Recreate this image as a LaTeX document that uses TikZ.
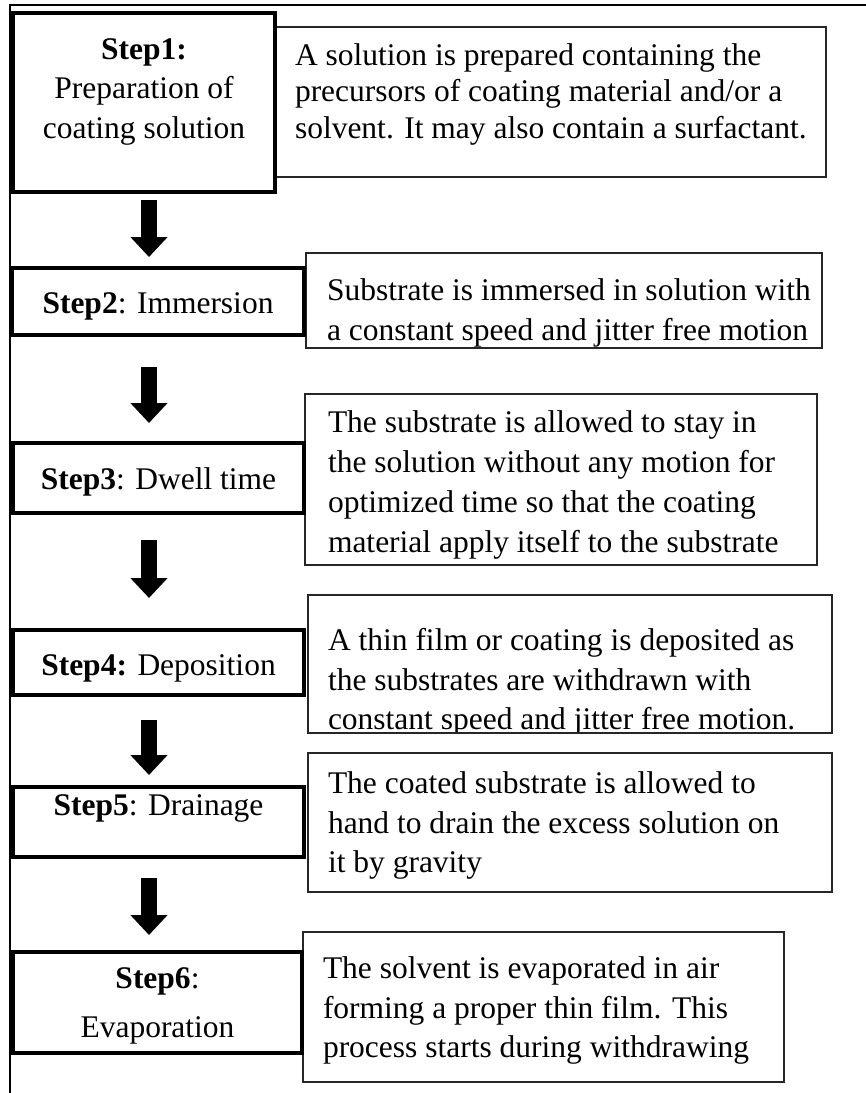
\documentclass[tikz,border=0pt]{standalone}
\usepackage{fontspec}
\setmainfont{Liberation Serif}
\usetikzlibrary{arrows.meta}

\begin{document}
\begin{tikzpicture}[x=1pt,y=-1pt,
  every node/.style={inner sep=0pt, outer sep=0pt},
  stepbox/.style={draw=black, line width=4pt, fill=white, anchor=north west},
  descbox/.style={draw=black!85, line width=1.3pt, fill=white, anchor=north west},
  txt/.style={font=\fontsize{31.5}{40}\selectfont, anchor=base},
  ltxt/.style={txt, anchor=base west},
  flowarrow/.style={line width=16pt, -{Triangle[width=36pt,length=20pt]}}
]
\useasboundingbox (0,0) rectangle (866,1093);

% frame (top and left rules)
\draw[line width=2pt] (866,5) -- (10,5) -- (10,1093);

% description boxes
\node[descbox, minimum width=551pt, minimum height=150pt] (d1) at (275,27) {};
\node[descbox, minimum width=516pt, minimum height=95pt]  (d2) at (306,253) {};
\node[descbox, minimum width=512pt, minimum height=171pt] (d3) at (305,394) {};
\node[descbox, minimum width=524pt, minimum height=138pt] (d4) at (308,595) {};
\node[descbox, minimum width=524pt, minimum height=139pt] (d5) at (308,753) {};
\node[descbox, minimum width=481pt, minimum height=150pt] (d6) at (303,932) {};

% step boxes
\node[stepbox, minimum width=262pt, minimum height=179pt] (s1) at (13,13) {};
\node[stepbox, minimum width=292pt, minimum height=67pt]  (s2) at (12,268) {};
\node[stepbox, minimum width=291pt, minimum height=70pt]  (s3) at (13,443) {};
\node[stepbox, minimum width=291pt, minimum height=65pt]  (s4) at (13,630) {};
\node[stepbox, minimum width=291pt, minimum height=70pt]  (s5) at (13,787) {};
\node[stepbox, minimum width=289pt, minimum height=101pt] (s6) at (13,952) {};

% step labels
\node[txt] (s1a) at (144,59)  {\textbf{Step1:}};
\node[txt] (s1b) at (144,98)  {Preparation of};
\node[txt] (s1c) at (144,138) {coating solution};
\node[txt] (s2a) at (158,313) {\textbf{Step2}: Immersion};
\node[txt] (s3a) at (158.5,489) {\textbf{Step3}: Dwell time};
\node[txt] (s4a) at (158.5,675) {\textbf{Step4:} Deposition};
\node[txt] (s5a) at (158.5,815) {\textbf{Step5}: Drainage};
\node[txt] (s6a) at (157.5,988)  {\textbf{Step6}:};
\node[txt] (s6b) at (157.5,1037) {Evaporation};

% description texts
\node[ltxt] (d1a) at (295,65)    {A solution is prepared containing the};
\node[ltxt] (d1b) at (295,101.5) {precursors of coating material and/or a};
\node[ltxt] (d1c) at (295,138)   {solvent. It may also contain a surfactant.};

\begin{scope}
  \clip (307,254) rectangle (821,346);
  \node[ltxt] (d2a) at (327,300) {Substrate is immersed in solution with};
  \node[ltxt] (d2b) at (327,340) {a constant speed and jitter free motion};
\end{scope}

\begin{scope}
  \clip (306,395) rectangle (816,561);
  \node[ltxt] (d3a) at (328,432) {The substrate is allowed to stay in};
  \node[ltxt] (d3b) at (328,472) {the solution without any motion for};
  \node[ltxt] (d3c) at (328,512) {optimized time so that the coating};
  \node[ltxt] (d3d) at (328,552) {material apply itself to the substrate};
\end{scope}

\begin{scope}
  \clip (309,596) rectangle (831,731);
  \node[ltxt] (d4a) at (328,650) {A thin film or coating is deposited as};
  \node[ltxt] (d4b) at (328,690) {the substrates are withdrawn with};
  \node[ltxt] (d4c) at (328,729) {constant speed and jitter free motion.};
\end{scope}

\node[ltxt] (d5a) at (328,793) {The coated substrate is allowed to};
\node[ltxt] (d5b) at (328,833) {hand to drain the excess solution on};
\node[ltxt] (d5c) at (328,872) {it by gravity};

\node[ltxt] (d6a) at (323,978)  {The solvent is evaporated in air};
\node[ltxt] (d6b) at (323,1018) {forming a proper thin film. This};
\node[ltxt] (d6c) at (323,1057) {process starts during withdrawing};

% arrow end points
\coordinate (t1) at (149,200); \coordinate (h1) at (149,257);
\coordinate (t2) at (149,367); \coordinate (h2) at (149,423);
\coordinate (t3) at (149,540); \coordinate (h3) at (149,598);
\coordinate (t4) at (149,720); \coordinate (h4) at (149,775);
\coordinate (t5) at (149,878); \coordinate (h5) at (149,935);

\draw[flowarrow] (t1) -- (h1);
\draw[flowarrow] (t2) -- (h2);
\draw[flowarrow] (t3) -- (h3);
\draw[flowarrow] (t4) -- (h4);
\draw[flowarrow] (t5) -- (h5);
\end{tikzpicture}
\end{document}
